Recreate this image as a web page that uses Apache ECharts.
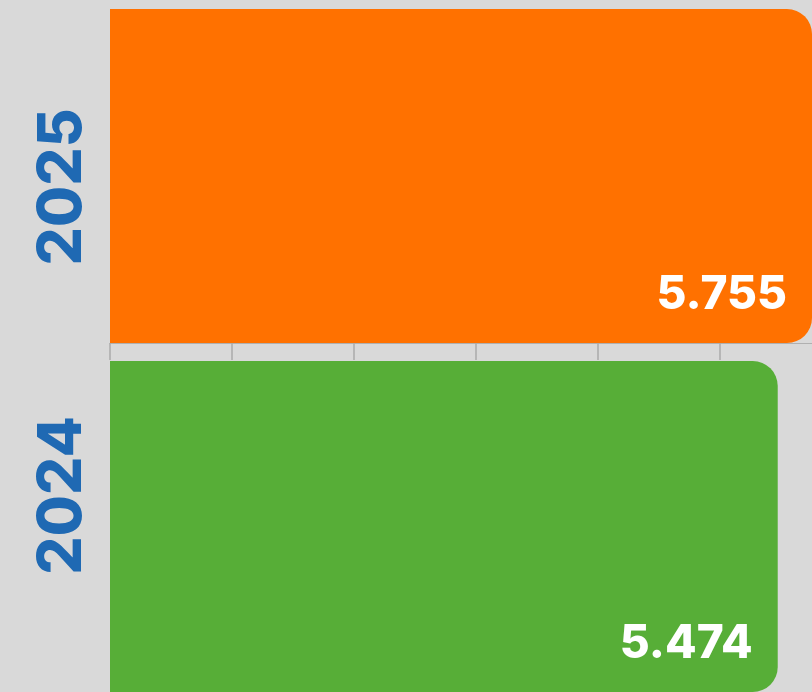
<!DOCTYPE html>
<html>
<head>
<meta charset="utf-8">
<style>
  html, body { margin: 0; padding: 0; background: #d9d9d9; }
  #chart { width: 812px; height: 692px; }
</style>
<script src="https://cdn.jsdelivr.net/npm/echarts@6/dist/echarts.min.js"></script>
</head>
<body>
<div id="chart"></div>
<script>
// Yearly totals, one bar per year
const years = ['2025', '2024'];
const totals = [5.755, 5.474];
const barColors = ['#ff7100', '#57ae37'];
const axisInterval = 1;

const chart = echarts.init(document.getElementById('chart'));
const maxValue = Math.max(...totals);

// Tick marks at every whole step below the longest bar
const tickValues = [];
for (let v = 0; v <= maxValue; v += axisInterval) tickValues.push(v);

// Each year sits in its own grid; the upper one carries the value-axis ticks.
const grids = [
  { left: 110, right: 0, top: 9, height: 334 },
  { left: 110, right: 0, top: 361, height: 333 }
];
// padding is [top, right, bottom, left] in the rotated label's own frame
const labelShift = [[0, 22, 0, 0], [0, 0, 0, 62]];

const option = {
  backgroundColor: '#d9d9d9',
  animation: false,
  grid: grids,
  xAxis: years.map((y, i) => ({
    type: 'value',
    gridIndex: i,
    min: 0,
    max: maxValue,
    interval: axisInterval,
    splitLine: { show: false },
    axisLabel: { show: false },
    axisLine: { show: i === 0, lineStyle: { color: '#b0b0b0', width: 1 } },
    axisTick: {
      show: i === 0,
      length: 17,
      customValues: tickValues,
      lineStyle: { color: '#aaaaaa', width: 1.5 }
    }
  })),
  yAxis: years.map((y, i) => ({
    type: 'category',
    gridIndex: i,
    data: [y],
    axisLine: { show: false },
    axisTick: { show: false },
    axisLabel: {
      rotate: 90,
      margin: 17,
      color: '#1f69b3',
      fontFamily: 'Inter',
      fontWeight: 800,
      fontSize: 60,
      padding: labelShift[i]
    }
  })),
  series: years.map((y, i) => ({
    type: 'bar',
    xAxisIndex: i,
    yAxisIndex: i,
    barWidth: '100%',
    data: [totals[i]],
    itemStyle: { color: barColors[i], borderRadius: [0, 25, 25, 0] },
    label: {
      show: true,
      position: 'insideBottomRight',
      distance: 25,
      color: '#ffffff',
      fontFamily: 'Inter',
      fontWeight: 800,
      fontSize: 46,
      formatter: p => p.value.toFixed(3)
    }
  }))
};
chart.setOption(option);
</script>
</body>
</html>
